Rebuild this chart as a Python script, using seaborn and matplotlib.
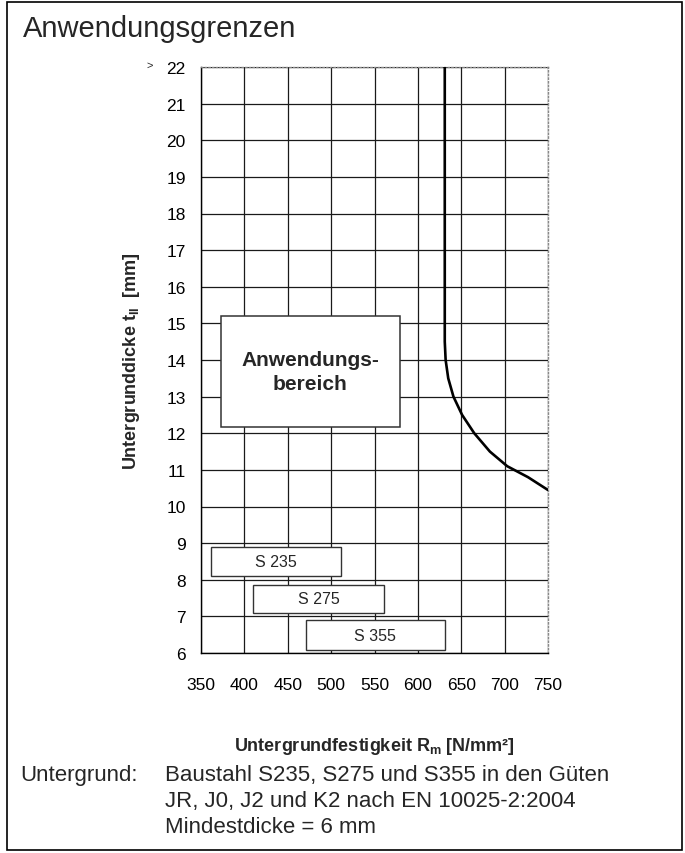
import matplotlib
matplotlib.use("Agg")
import matplotlib.pyplot as plt
import pandas as pd
import seaborn as sns
from matplotlib.patches import Rectangle

# Grenzkurve (Festigkeit -> Mindestdicke)
FESTIGKEIT = [631, 631, 632, 635, 641, 651, 665, 683, 703, 727, 750]
DICKE = [22, 14.5, 14.0, 13.5, 13.0, 12.5, 12.0, 11.5, 11.1, 10.8, 10.45]

X_TICKS = [350, 400, 450, 500, 550, 600, 650, 700, 750]
Y_TICKS = list(range(6, 23))

# Stahlgueten als Kaesten: Festigkeitsbereich und Hoehe im Diagramm
GUETE_LABELS = ["S 235", "S 275", "S 355"]
GUETE_X0 = [362, 410, 471]
GUETE_X1 = [511, 561, 631]
GUETE_Y0 = [8.1, 7.08, 6.07]
GUETE_Y1 = [8.89, 7.87, 6.9]

BEREICH_X = [373, 579]
BEREICH_Y = [12.16, 15.2]

FOOTER = [
    "Baustahl S235, S275 und S355 in den Güten",
    "JR, J0, J2 und K2 nach EN 10025-2:2004",
    "Mindestdicke = 6 mm",
]


def main() -> None:
    sns.set_theme(style="white")
    plt.rcParams["font.family"] = ["Liberation Sans", "DejaVu Sans"]
    plt.rcParams["mathtext.fontset"] = "custom"
    plt.rcParams["mathtext.rm"] = "Liberation Sans"

    fig = plt.figure(figsize=(6.85, 8.54), dpi=100)
    ax = fig.add_axes([201 / 685, 200 / 854, 347 / 685, 586 / 854])

    df = pd.DataFrame({"Rm": FESTIGKEIT, "t": DICKE})
    sns.lineplot(data=df, x="Rm", y="t", sort=False, estimator=None,
                 color="black", linewidth=1.9, ax=ax, zorder=5)

    ax.set_xlim(X_TICKS[0], X_TICKS[-1])
    ax.set_ylim(Y_TICKS[0], Y_TICKS[-1])
    ax.set_xticks(X_TICKS)
    ax.set_yticks(Y_TICKS)
    ax.grid(True, color="#1a1a1a", linewidth=0.9)
    ax.tick_params(axis="both", direction="out", length=4, width=0.8,
                   color="black", labelsize=12.5, labelcolor="black")
    ax.tick_params(axis="x", pad=13)
    ax.tick_params(axis="y", pad=7)
    for side in ("left", "bottom"):
        ax.spines[side].set_color("black")
        ax.spines[side].set_linewidth(1.0)
    for side in ("top", "right"):
        ax.spines[side].set_color("#888888")
        ax.spines[side].set_linestyle(":")
        ax.spines[side].set_linewidth(1.0)

    # Anwendungsbereich
    ax.add_patch(Rectangle((BEREICH_X[0], BEREICH_Y[0]), BEREICH_X[1] - BEREICH_X[0],
                           BEREICH_Y[1] - BEREICH_Y[0], facecolor="white",
                           edgecolor="#333333", linewidth=1.1, zorder=4))
    ax.text(sum(BEREICH_X) / 2, sum(BEREICH_Y) / 2, "Anwendungs-\nbereich",
            ha="center", va="center", fontsize=15, fontweight="bold",
            linespacing=1.35, zorder=6)

    for lab, x0, x1, y0, y1 in zip(GUETE_LABELS, GUETE_X0, GUETE_X1, GUETE_Y0, GUETE_Y1):
        ax.add_patch(Rectangle((x0, y0), x1 - x0, y1 - y0, facecolor="white",
                               edgecolor="#333333", linewidth=1.0, zorder=4))
        ax.text((x0 + x1) / 2, (y0 + y1) / 2, lab, ha="center", va="center",
                fontsize=11.5, zorder=6)

    ax.set_xlabel(r"Untergrundfestigkeit R$_\mathregular{m}$ [N/mm²]",
                  fontsize=13, fontweight="bold")
    ax.set_ylabel(r"Untergrunddicke t$_\mathregular{II}$  [mm]",
                  fontsize=13, fontweight="bold")
    ax.xaxis.set_label_coords(0.5, -0.14)
    ax.yaxis.set_label_coords(-0.17, 0.5)

    fig.text(150 / 685, 1 - 66 / 854, ">", fontsize=8, ha="center", va="center")
    fig.text(23 / 685, 1 - 37 / 854, "Anwendungsgrenzen", fontsize=21, va="baseline")

    fig.text(20 / 685, 1 - 781 / 854, "Untergrund:", fontsize=16, va="baseline")
    for i, line in enumerate(FOOTER):
        fig.text(165 / 685, 1 - (781 + 26 * i) / 854, line, fontsize=16, va="baseline")

    fig.patches.append(Rectangle((7 / 685, 3 / 854), 675 / 685, 848 / 854,
                                 transform=fig.transFigure, fill=False,
                                 edgecolor="black", linewidth=1.2))

    fig.savefig("out.png", dpi=100)


if __name__ == "__main__":
    main()
